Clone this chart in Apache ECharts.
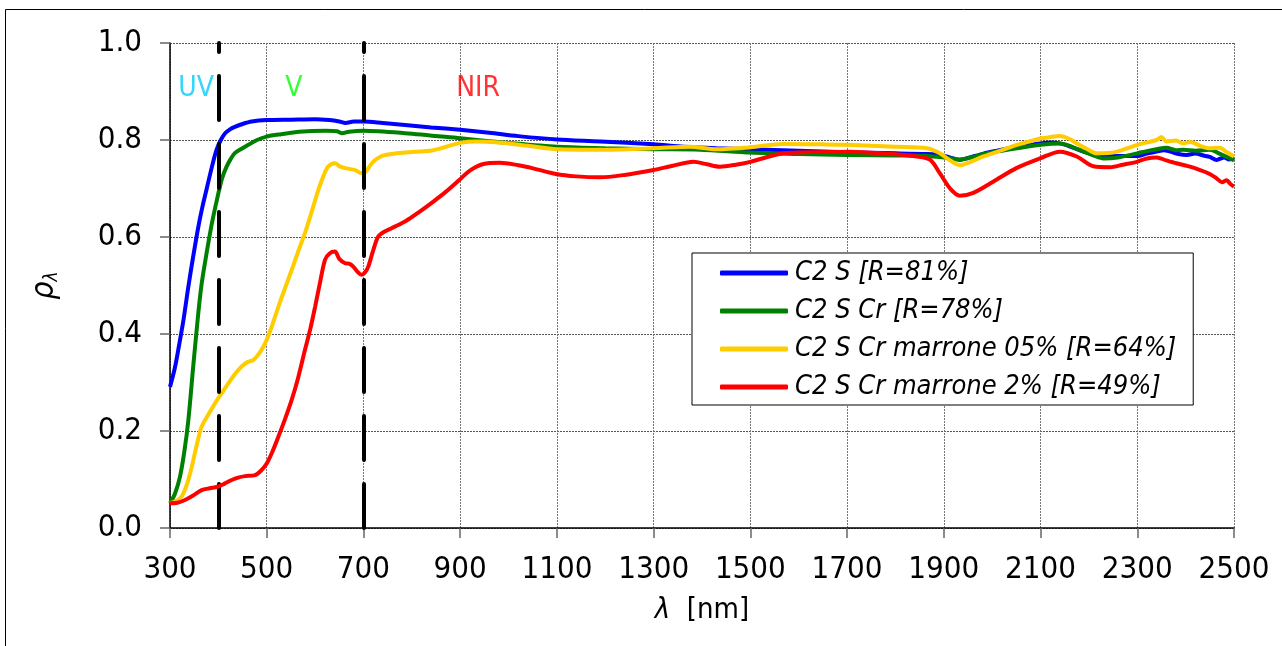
<!DOCTYPE html>
<html>
<head>
<meta charset="utf-8">
<script src="https://cdn.jsdelivr.net/npm/echarts@6/dist/echarts.min.js"></script>
<style>
html,body{margin:0;padding:0;background:#fff;}
#chart{width:1282px;height:646px;}
</style>
</head>
<body>
<div id="chart"></div>
<script>
var seriesNames = ['C2 S [R=81%]', 'C2 S Cr [R=78%]', 'C2 S Cr marrone 05% [R=64%]', 'C2 S Cr marrone 2% [R=49%]'];
var seriesColors = ['#0000FF', '#008000', '#FFCC00', '#FF0000'];

var xTicks = [300, 500, 700, 900, 1100, 1300, 1500, 1700, 1900, 2100, 2300, 2500];
var yTicks = [0.0, 0.2, 0.4, 0.6, 0.8, 1.0];

var regionBounds = [400, 700];
var regionLabels = [
  {name: 'UV', x: 354, y: 0.905, color: '#00CCFF'},
  {name: 'V', x: 556, y: 0.905, color: '#00FF00'},
  {name: 'NIR', x: 937, y: 0.905, color: '#FF0000'}
];

var blueC2S = [[300,0.291],[310,0.33],[317,0.367],[328,0.43],[338,0.498],[348,0.56],[358,0.618],[367,0.662],[376,0.700],[386,0.742],[396,0.779],[405,0.800],[414,0.814],[424,0.822],[434,0.827],[450,0.833],[469,0.838],[500,0.841],[550,0.842],[600,0.843],[630,0.841],[650,0.838],[663,0.835],[680,0.838],[700,0.838],[740,0.835],[786,0.831],[840,0.826],[900,0.821],[960,0.815],[1020,0.808],[1100,0.801],[1190,0.797],[1300,0.791],[1362,0.786],[1430,0.783],[1500,0.781],[1600,0.778],[1700,0.775],[1780,0.773],[1866,0.771],[1890,0.769],[1906,0.766],[1920,0.762],[1933,0.759],[1950,0.763],[1982,0.772],[2010,0.778],[2051,0.786],[2080,0.790],[2099,0.793],[2120,0.795],[2140,0.793],[2160,0.787],[2189,0.776],[2210,0.770],[2230,0.766],[2260,0.767],[2300,0.767],[2320,0.772],[2340,0.776],[2355,0.779],[2368,0.776],[2385,0.771],[2402,0.769],[2420,0.772],[2437,0.768],[2450,0.765],[2464,0.759],[2480,0.764],[2490,0.760],[2500,0.762]];

var greenC2SCr = [[300,0.051],[310,0.07],[320.7,0.106],[330,0.16],[338,0.223],[348,0.333],[358.5,0.443],[365,0.50],[372,0.545],[386,0.625],[400,0.690],[408,0.722],[417,0.745],[425,0.760],[434,0.773],[448,0.782],[462,0.790],[480,0.800],[500,0.807],[530,0.812],[567,0.817],[622,0.819],[645,0.818],[656,0.814],[670,0.817],[700,0.819],[786,0.814],[900,0.8035],[1000,0.794],[1100,0.786],[1200,0.783],[1300,0.781],[1396,0.780],[1500,0.774],[1600,0.771],[1700,0.769],[1800,0.768],[1866,0.767],[1906,0.763],[1933,0.760],[1960,0.765],[1982,0.771],[2020,0.778],[2051,0.783],[2099,0.790],[2140,0.793],[2160,0.788],[2189,0.776],[2210,0.768],[2230,0.762],[2260,0.764],[2300,0.7725],[2320,0.777],[2340,0.781],[2360,0.784],[2380,0.779],[2395,0.780],[2420,0.778],[2450,0.780],[2470,0.772],[2490,0.763],[2500,0.758]];

var yellowMarrone05 = [[300,0.051],[312,0.055],[324,0.065],[335,0.09],[345,0.126],[355,0.17],[365.5,0.209],[380,0.235],[393,0.257],[407,0.278],[420.5,0.298],[434,0.317],[448,0.333],[460,0.342],[472,0.346],[486,0.362],[500,0.388],[512,0.42],[524,0.456],[538,0.495],[551.6,0.532],[565,0.57],[579,0.608],[593,0.652],[606.7,0.697],[617,0.725],[627,0.745],[641,0.752],[652,0.745],[662,0.742],[682.5,0.738],[695,0.732],[703,0.733],[712,0.745],[720,0.755],[732,0.764],[744.6,0.769],[786,0.774],[844,0.779],[900,0.794],[934,0.797],[980,0.795],[1040,0.788],[1100,0.781],[1190,0.780],[1300,0.783],[1375,0.786],[1430,0.781],[1500,0.785],[1568,0.792],[1650,0.791],[1700,0.790],[1800,0.786],[1866,0.783],[1892,0.7725],[1910,0.760],[1933,0.748],[1955,0.755],[1982,0.766],[2020,0.779],[2051,0.790],[2080,0.798],[2099,0.803],[2120,0.806],[2140,0.808],[2160,0.802],[2175,0.793],[2195,0.782],[2216,0.7725],[2240,0.773],[2258,0.776],[2280,0.783],[2300,0.790],[2320,0.795],[2340,0.800],[2350,0.806],[2360,0.797],[2380,0.799],[2395,0.793],[2410,0.796],[2430,0.788],[2450,0.783],[2470,0.784],[2485,0.775],[2500,0.766]];

var redMarrone2 = [[300,0.051],[315,0.052],[331,0.0577],[348,0.067],[365.5,0.078],[382,0.082],[398,0.085],[412,0.091],[427.6,0.099],[441,0.104],[455,0.107],[476,0.109],[488,0.118],[500,0.133],[512,0.158],[524,0.188],[538,0.225],[551.6,0.264],[565,0.31],[579,0.367],[590,0.41],[600,0.456],[610,0.505],[620.5,0.553],[630,0.566],[641,0.570],[650,0.555],[662,0.546],[670,0.545],[679,0.539],[688,0.528],[696,0.522],[703,0.527],[710,0.539],[720,0.572],[730.7,0.601],[745,0.612],[758,0.618],[786,0.632],[796,0.6385],[820,0.655],[844.5,0.673],[870,0.693],[898,0.7175],[920,0.737],[948,0.7505],[982,0.753],[1020,0.748],[1051,0.7416],[1098,0.730],[1140,0.725],[1189,0.723],[1240,0.728],[1300,0.738],[1340,0.747],[1382,0.755],[1410,0.750],[1437,0.745],[1470,0.749],[1500,0.755],[1568,0.7725],[1630,0.775],[1706,0.776],[1780,0.772],[1844,0.766],[1872,0.759],[1892,0.731],[1913,0.700],[1933,0.685],[1961,0.691],[2002,0.714],[2050,0.742],[2099,0.762],[2140,0.776],[2175,0.766],[2209,0.746],[2244,0.744],[2270,0.749],[2299,0.755],[2320,0.762],[2340,0.764],[2360,0.758],[2381,0.752],[2405,0.746],[2430,0.738],[2450,0.730],[2464,0.721],[2475,0.713],[2485,0.717],[2492,0.710],[2500,0.704]];

var seriesData = [blueC2S, greenC2SCr, yellowMarrone05, redMarrone2];

var FONT = "'DejaVu Sans Condensed', 'Liberation Sans', sans-serif";

var chart = echarts.init(document.getElementById('chart'), null, {renderer: 'canvas'});

var series = seriesNames.map(function (n, i) {
  return {
    name: n,
    type: 'line',
    data: seriesData[i],
    showSymbol: false,
    symbol: 'none',
    smooth: 0.3,
    lineStyle: {color: seriesColors[i], width: 4},
    itemStyle: {color: seriesColors[i]},
    z: 2 + i
  };
});

series.push({
  name: 'regions',
  type: 'line',
  data: [],
  silent: true,
  z: 10,
  markLine: {
    silent: true,
    symbol: ['none', 'none'],
    label: {show: false},
    lineStyle: {color: '#000', width: 4, type: [44, 24], cap: 'round'},
    data: regionBounds.map(function (b) {
      return [{coord: [b, yTicks[0]]}, {coord: [b, yTicks[yTicks.length - 1]]}];
    })
  }
});

series.push({
  name: 'regionLabels',
  type: 'scatter',
  symbolSize: 0,
  silent: true,
  z: 11,
  data: regionLabels.map(function (r) {
    return {
      value: [r.x, r.y],
      label: {show: true, position: 'inside', formatter: r.name, color: r.color, fontSize: 28, fontFamily: FONT}
    };
  })
});

chart.setOption({
  animation: false,
  backgroundColor: '#fff',
  graphic: [{
    type: 'rect',
    shape: {x: 5.5, y: 9.5, width: 1400, height: 800},
    style: {fill: 'none', stroke: '#000', lineWidth: 1},
    silent: true,
    z: -1
  }],
  grid: {left: 170, right: 48, top: 43, bottom: 118, containLabel: false},
  legend: {
    data: seriesNames,
    orient: 'vertical',
    left: 692,
    top: 253,
    itemWidth: 68,
    itemHeight: 5,
    itemGap: 8,
    icon: 'roundRect',
    padding: [5, 17, 3, 28],
    borderColor: '#000',
    borderWidth: 1,
    backgroundColor: '#fff',
    textStyle: {fontFamily: FONT, fontStyle: 'italic', fontSize: 27, color: '#000', lineHeight: 30, padding: [0, 0, 0, 2]}
  },
  xAxis: {
    type: 'value',
    min: xTicks[0],
    max: xTicks[xTicks.length - 1],
    interval: 200,
    name: '{i|λ}  [nm]',
    nameLocation: 'middle',
    nameGap: 68,
    nameTextStyle: {
      fontFamily: FONT, fontSize: 29, color: '#000',
      rich: {i: {fontFamily: FONT, fontStyle: 'italic', fontSize: 29, color: '#000'}}
    },
    axisLine: {show: true, onZero: false, lineStyle: {color: '#000', width: 1.5}},
    axisTick: {show: true, length: 10, lineStyle: {color: '#666', width: 1.5}},
    axisLabel: {margin: 26, fontFamily: FONT, fontSize: 31, color: '#000', formatter: function (v) { return String(v); }},
    splitLine: {show: true, lineStyle: {color: '#777', width: 1, type: [2, 1]}}
  },
  yAxis: {
    type: 'value',
    min: 0,
    max: 1,
    interval: 0.2,
    name: '{r|ρ}{s|λ}',
    nameLocation: 'middle',
    nameGap: 108,
    nameRotate: 90,
    nameTextStyle: {
      rich: {
        r: {fontFamily: FONT, fontStyle: 'italic', fontSize: 32, color: '#000'},
        s: {fontFamily: FONT, fontStyle: 'italic', fontSize: 19, color: '#000', verticalAlign: 'bottom', padding: [16, 0, 0, 0]}
      }
    },
    axisLine: {show: true, onZero: false, lineStyle: {color: '#000', width: 1.5}},
    axisTick: {show: true, length: 10, lineStyle: {color: '#666', width: 1.5}},
    axisLabel: {margin: 28, fontFamily: FONT, fontSize: 31, color: '#000', formatter: function (v) { return v.toFixed(1); }},
    splitLine: {show: true, lineStyle: {color: '#555', width: 1, type: [2, 1]}}
  },
  series: series
});
</script>
</body>
</html>
